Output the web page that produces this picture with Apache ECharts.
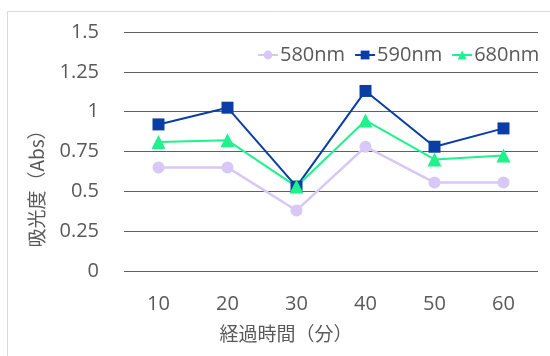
<!DOCTYPE html>
<html>
<head>
<meta charset="utf-8">
<script src="https://cdn.jsdelivr.net/npm/echarts@6/dist/echarts.min.js"></script>
<style>
  html, body { margin: 0; padding: 0; background: #fff; }
  #chart { width: 550px; height: 356px; }
</style>
</head>
<body>
<div id="chart"></div>
<script>
// Elapsed time (minutes) on the x axis
const categories = ['10', '20', '30', '40', '50', '60'];

// Absorbance readings per wavelength
const abs580 = [0.65, 0.65, 0.38, 0.78, 0.555, 0.555];
const abs590 = [0.92, 1.025, 0.53, 1.13, 0.78, 0.895];
const abs680 = [0.81, 0.82, 0.53, 0.945, 0.70, 0.725];

const seriesNames = ['580nm', '590nm', '680nm'];
const xTitle = '経過時間（分）';
const yTitle = '吸光度（Abs）';

const FONT = '"Open Sans", "Noto Sans CJK JP", sans-serif';
const CJK = '"Noto Sans CJK JP", sans-serif';
const TEXT = '#595959';

const chart = echarts.init(document.getElementById('chart'), null, { renderer: 'canvas' });

function lineSeries(name, data, color, symbol, size, width) {
  return {
    name: name,
    type: 'line',
    data: data,
    symbol: symbol,
    symbolSize: size,
    lineStyle: { color: color, width: width },
    itemStyle: { color: color },
    emphasis: { disabled: true },
    animation: false
  };
}

chart.setOption({
  backgroundColor: '#fff',
  animation: false,
  grid: { left: 124, right: 12, top: 32, bottom: 85 },
  legend: {
    left: 252,
    top: 40,
    itemWidth: 20,
    itemHeight: 11,
    itemGap: 9,
    textStyle: { fontFamily: FONT, fontSize: 20, color: TEXT, padding: [0, 0, 0, -3] },
    data: seriesNames
  },
  xAxis: {
    type: 'category',
    data: categories,
    boundaryGap: true,
    axisLine: { show: false },
    axisTick: { show: false },
    axisLabel: { fontFamily: FONT, fontSize: 20, color: TEXT, margin: 23 }
  },
  yAxis: {
    type: 'value',
    min: 0,
    max: 1.5,
    interval: 0.25,
    axisLine: { show: false },
    axisTick: { show: false },
    axisLabel: { fontFamily: FONT, fontSize: 20, color: TEXT, margin: 25 },
    splitLine: { lineStyle: { color: '#606060', width: 1 } }
  },
  graphic: [
    {
      type: 'rect',
      shape: { x: 7.5, y: 11.5, width: 600, height: 400 },
      style: { fill: 'none', stroke: '#d9d9d9', lineWidth: 1 },
      silent: true,
      z: -1
    },
    {
      type: 'text',
      x: 286,
      y: 334,
      style: {
        text: xTitle,
        font: '19px ' + CJK,
        fill: TEXT,
        textAlign: 'center',
        textVerticalAlign: 'middle'
      }
    },
    {
      type: 'text',
      x: 37,
      y: 184,
      rotation: Math.PI / 2,
      style: {
        text: yTitle,
        font: '19px ' + CJK,
        fill: TEXT,
        textAlign: 'center',
        textVerticalAlign: 'middle'
      }
    }
  ],
  series: [
    lineSeries(seriesNames[0], abs580, '#d7c8f7', 'circle', 12, 2.5),
    lineSeries(seriesNames[1], abs590, '#0a3ea5', 'rect', 12, 2),
    lineSeries(seriesNames[2], abs680, '#1ef28c', 'triangle', 14, 2)
  ]
});
</script>
</body>
</html>
